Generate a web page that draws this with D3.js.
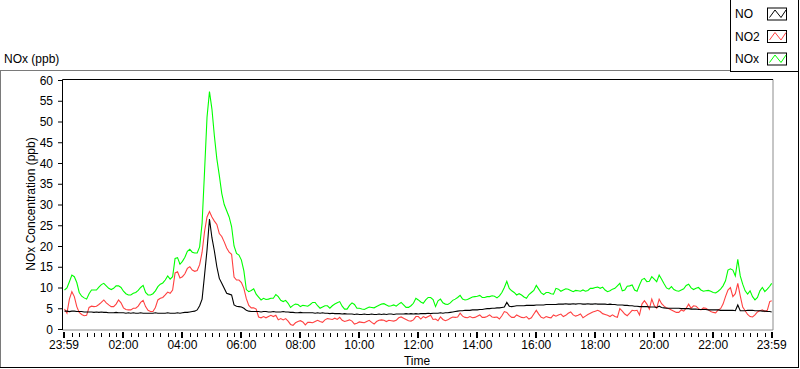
<!DOCTYPE html>
<html>
<head>
<meta charset="utf-8">
<script src="https://cdn.jsdelivr.net/npm/d3@7/dist/d3.min.js"></script>
<style>
  body { margin: 0; background: #fff; }
  svg text { font-family: "Liberation Sans", Arial, sans-serif; font-size: 12px; fill: #000; }
</style>
</head>
<body>
<div id="chart"></div>
<script>
// one reading every 5 minutes, 00:00 .. 23:59
var minutes = d3.range(289).map(function(i) { return Math.min(i * 5, 1439); });

var noxValues = [
  9.4, 9.9, 11.4, 13.0, 12.6, 11.2, 8.8, 7.9, 7.5, 7.2,
  8.5, 9.4, 9.4, 9.4, 10.1, 10.7, 11.0, 10.4, 9.8, 9.5,
  9.8, 10.4, 10.4, 10.0, 9.1, 8.5, 8.2, 8.2, 8.6, 8.8,
  9.3, 10.0, 10.5, 8.8, 8.2, 8.2, 8.5, 9.2, 10.2, 10.8,
  11.1, 11.8, 12.8, 12.0, 12.6, 17.0, 17.2, 15.6, 16.3, 17.3,
  18.7, 19.2, 18.5, 18.3, 18.3, 19.8, 25.5, 38.0, 51.0, 57.2,
  53.0, 46.5, 41.0, 37.0, 32.7, 30.0, 28.5, 27.0, 24.7, 20.0,
  18.2, 17.8, 16.6, 14.0, 9.5, 9.0, 9.3, 9.7, 8.4, 7.7,
  7.0, 7.4, 7.1, 7.2, 7.4, 7.4, 8.3, 7.8, 6.9, 6.6,
  6.9, 6.2, 5.2, 5.7, 6.0, 5.9, 5.4, 5.7, 5.6, 5.5,
  5.9, 6.4, 6.4, 5.6, 5.0, 5.3, 5.6, 5.6, 5.0, 5.6,
  6.0, 6.3, 6.6, 5.5, 4.8, 4.8, 5.7, 6.3, 5.9, 5.0,
  5.0, 4.8, 4.7, 5.0, 5.3, 5.2, 5.1, 5.4, 5.7, 6.0,
  6.1, 5.8, 5.5, 5.6, 5.8, 5.5, 6.0, 6.4, 5.8, 5.2,
  5.2, 5.6, 6.2, 7.4, 7.0, 6.5, 6.2, 7.0, 7.6, 7.6,
  7.1, 5.4, 6.8, 7.2, 6.3, 6.0, 5.9, 6.3, 6.9, 7.2,
  7.6, 8.1, 7.2, 7.0, 7.1, 7.4, 7.7, 7.8, 7.9, 8.1,
  7.6, 7.6, 7.8, 7.8, 8.0, 7.9, 7.5, 8.0, 8.8, 10.0,
  11.5, 9.8, 9.2, 8.8, 8.2, 8.5, 8.2, 7.7, 7.4, 8.3,
  8.8, 9.3, 10.5, 9.6, 8.7, 8.3, 8.8, 8.8, 8.5, 8.4,
  9.8, 9.6, 9.1, 9.4, 9.7, 9.6, 9.3, 9.0, 9.3, 9.2,
  9.1, 9.4, 9.1, 9.3, 9.8, 9.8, 10.0, 10.1, 9.8, 10.1,
  9.4, 9.0, 9.2, 9.6, 9.8, 10.4, 11.0, 9.2, 9.4, 10.3,
  10.4, 10.6, 9.4, 9.1, 10.6, 11.9, 12.2, 11.4, 11.5, 12.6,
  12.0, 11.4, 13.0, 12.0, 10.9, 9.9, 9.6, 10.2, 9.5, 9.2,
  9.1, 9.4, 9.7, 10.5, 10.8, 9.9, 9.5, 9.8, 10.0, 9.4,
  9.1, 9.2, 9.3, 9.1, 8.8, 8.7, 9.1, 9.6, 10.4, 11.6,
  14.2, 14.5, 14.2, 12.8, 16.8, 12.8, 10.8, 9.2, 8.4, 9.2,
  7.8, 7.0, 7.6, 9.2, 10.0, 9.0, 9.6, 10.3, 11.0
];

var no2Values = [
  4.8, 3.8, 7.2, 9.0, 7.8, 5.4, 4.0, 3.5, 3.2, 3.3,
  5.2, 5.5, 5.4, 5.5, 5.9, 6.4, 7.0, 6.3, 5.8, 5.4,
  5.4, 6.0, 7.0, 6.3, 5.1, 4.7, 4.6, 4.6, 5.0, 5.0,
  5.5, 6.4, 6.9, 5.4, 4.5, 4.2, 4.2, 5.2, 7.0, 7.4,
  7.6, 8.2, 8.9, 8.6, 9.4, 13.5, 13.8, 12.3, 12.6, 13.3,
  14.6, 15.0, 14.2, 13.9, 14.1, 15.5, 18.5, 23.5, 27.0, 28.3,
  27.0, 26.0, 25.2, 23.0, 22.3, 21.0, 19.5, 18.5, 18.0, 12.5,
  11.8, 11.8, 11.2, 9.8, 7.3, 5.7, 5.1, 5.1, 4.8, 2.9,
  2.7, 3.0, 2.7, 3.0, 3.3, 3.0, 3.3, 2.2, 2.5, 2.2,
  2.5, 1.9, 1.1, 0.9, 1.5, 1.8, 2.0, 1.7, 1.0, 1.6,
  1.6, 1.5, 1.8, 2.1, 1.8, 1.6, 2.2, 2.5, 2.4, 2.3,
  2.6, 2.3, 2.8, 2.1, 1.8, 2.0, 2.2, 1.9, 1.2, 1.4,
  1.7, 1.6, 1.5, 1.8, 2.1, 1.6, 1.2, 1.8, 2.1, 2.2,
  2.1, 1.8, 2.1, 2.0, 1.9, 2.1, 2.7, 2.9, 2.6, 2.3,
  2.0, 1.9, 2.2, 3.0, 3.0, 2.4, 3.0, 2.7, 3.0, 3.3,
  2.3, 2.4, 2.0, 2.9, 2.3, 2.0, 2.2, 2.6, 2.9, 2.8,
  2.9, 3.8, 3.1, 2.8, 2.7, 3.0, 2.7, 2.8, 3.1, 3.4,
  2.8, 2.8, 3.0, 3.4, 2.9, 2.8, 2.9, 2.4, 3.2, 4.2,
  4.0, 3.3, 2.8, 2.8, 3.4, 3.1, 2.8, 2.7, 3.0, 2.4,
  2.7, 3.6, 4.5, 3.6, 2.8, 2.6, 3.0, 2.8, 2.7, 3.4,
  3.1, 3.4, 3.6, 3.0, 3.3, 3.8, 4.1, 3.4, 3.1, 3.3,
  3.6, 2.7, 3.1, 3.5, 3.8, 4.1, 4.3, 4.5, 4.2, 3.7,
  3.5, 3.3, 3.0, 3.4, 3.0, 2.8, 4.9, 4.3, 3.6, 3.2,
  3.8, 4.5, 4.4, 4.5, 3.4, 6.0, 6.8, 6.0, 4.8, 7.2,
  5.6, 5.0, 7.2, 6.1, 5.5, 5.1, 4.9, 4.6, 4.3, 4.0,
  4.0, 4.6, 4.3, 5.0, 6.0, 5.0, 5.6, 5.5, 4.9, 4.6,
  5.1, 5.0, 4.6, 4.2, 4.0, 3.9, 4.6, 4.9, 6.0, 7.8,
  9.4, 10.0, 7.8, 8.5, 11.0, 8.0, 5.3, 4.4, 3.5, 3.0,
  2.9, 3.4, 4.1, 4.4, 4.6, 4.2, 4.5, 6.6, 6.8
];

var noValues = [
  4.3, 4.3, 4.2, 4.3, 4.3, 4.2, 4.2, 4.2, 4.1, 4.1,
  4.1, 4.1, 4.0, 4.1, 4.0, 4.1, 4.0, 4.0, 3.9, 3.9,
  3.9, 4.0, 3.9, 3.9, 3.9, 3.8, 3.9, 3.8, 3.9, 3.8,
  3.8, 3.9, 3.8, 3.8, 3.8, 3.8, 3.8, 3.9, 3.8, 3.8,
  3.8, 3.8, 3.9, 3.8, 3.8, 3.8, 3.9, 3.8, 3.9, 4.0,
  4.0, 4.1, 4.2, 4.3, 4.6, 5.6, 7.2, 13.0, 19.0, 26.5,
  22.0, 18.8, 15.0, 12.2, 11.0, 9.8, 8.6, 8.4, 8.2, 5.8,
  5.5, 5.4, 5.3, 5.0, 4.5, 4.3, 4.2, 4.2, 4.2, 4.2,
  4.1, 4.2, 4.2, 4.1, 4.1, 4.2, 4.1, 4.1, 4.1, 4.2,
  4.1, 4.1, 4.0, 4.0, 3.9, 3.9, 4.0, 3.9, 3.9, 3.9,
  3.9, 3.9, 3.8, 3.9, 3.8, 3.9, 3.8, 3.8, 3.7, 3.8,
  3.7, 3.7, 3.7, 3.6, 3.7, 3.6, 3.6, 3.6, 3.5, 3.6,
  3.5, 3.5, 3.6, 3.5, 3.5, 3.6, 3.5, 3.5, 3.6, 3.5,
  3.6, 3.5, 3.6, 3.6, 3.5, 3.6, 3.6, 3.6, 3.6, 3.7,
  3.6, 3.7, 3.6, 3.7, 3.6, 3.7, 3.7, 3.7, 3.8, 3.7,
  3.8, 3.8, 3.8, 3.9, 3.8, 3.9, 3.9, 4.0, 4.1, 4.2,
  4.3, 4.4, 4.4, 4.5, 4.5, 4.5, 4.6, 4.6, 4.6, 4.7,
  4.7, 4.8, 4.9, 4.9, 5.0, 5.0, 5.1, 5.1, 5.2, 5.3,
  6.4, 5.5, 5.4, 5.5, 5.6, 5.6, 5.6, 5.6, 5.7, 5.7,
  5.7, 5.7, 5.8, 5.8, 5.8, 5.8, 5.9, 5.9, 5.9, 5.9,
  5.9, 6.0, 6.0, 6.0, 6.1, 6.0, 6.0, 6.1, 6.0, 6.1,
  6.1, 6.0, 6.0, 6.1, 6.0, 6.0, 6.1, 6.0, 6.0, 6.0,
  6.0, 5.9, 6.0, 5.9, 5.9, 5.8, 5.8, 5.8, 5.7, 5.7,
  5.6, 5.6, 5.5, 5.5, 5.4, 5.4, 5.4, 5.4, 5.3, 5.3,
  5.3, 5.2, 5.5, 5.2, 5.1, 5.0, 5.0, 5.0, 5.0, 5.0,
  5.0, 4.9, 4.9, 4.9, 4.9, 4.8, 4.8, 4.8, 4.7, 4.7,
  4.7, 4.7, 4.6, 4.6, 4.6, 4.6, 4.6, 4.5, 4.5, 4.5,
  4.5, 4.5, 4.5, 4.4, 5.8, 4.4, 4.4, 4.4, 4.5, 4.5,
  4.5, 4.4, 4.4, 4.4, 4.3, 4.3, 4.2, 4.2, 4.1
];

var seriesNames = ["NO", "NO2", "NOx"];
var seriesColors = ["#000000", "#ff4040", "#00ff00"];
var yTicks = d3.range(0, 61, 5);
var xTickMinutes = [-1, 120, 240, 360, 480, 600, 720, 840, 960, 1080, 1200, 1320, 1439];
var xTickLabels = ["23:59", "02:00", "04:00", "06:00", "08:00", "10:00", "12:00",
                   "14:00", "16:00", "18:00", "20:00", "22:00", "23:59"];

var width = 800, height = 369;
var plot = { left: 62.5, right: 773, top: 79.5, bottom: 330 };

var svg = d3.select("#chart").append("svg")
    .attr("width", width)
    .attr("height", height);

svg.append("rect").attr("width", width).attr("height", height).attr("fill", "#fff");

// outer panel frame
svg.append("line").attr("x1", 0).attr("x2", 730).attr("y1", 70.5).attr("y2", 70.5).attr("stroke", "#7a7a7a");
svg.append("line").attr("x1", 0.5).attr("x2", 0.5).attr("y1", 70).attr("y2", 368).attr("stroke", "#7a7a7a");
svg.append("line").attr("x1", 0).attr("x2", 799).attr("y1", 367.5).attr("y2", 367.5).attr("stroke", "#000");
svg.append("line").attr("x1", 798.5).attr("x2", 798.5).attr("y1", 70).attr("y2", 368).attr("stroke", "#000");

svg.append("text").attr("x", 4).attr("y", 63).text("NOx (ppb)");

var x = d3.scaleLinear().domain([-1, 1439]).range([64, 771.7]);
var y = d3.scaleLinear().domain([0, 60]).range([329, 80]);

// plot frame
svg.append("line").attr("x1", plot.right).attr("x2", plot.right).attr("y1", plot.top).attr("y2", plot.bottom).attr("stroke", "#8c8c8c");
svg.append("line").attr("x1", plot.left).attr("x2", plot.right).attr("y1", plot.bottom).attr("y2", plot.bottom).attr("stroke", "#8c8c8c");
svg.append("line").attr("x1", plot.left).attr("x2", plot.right).attr("y1", plot.top).attr("y2", plot.top).attr("stroke", "#000");
svg.append("line").attr("x1", plot.left).attr("x2", plot.left).attr("y1", plot.top).attr("y2", plot.bottom).attr("stroke", "#000");

svg.append("clipPath").attr("id", "clip")
  .append("rect").attr("x", plot.left + 0.5).attr("y", plot.top + 0.5)
  .attr("width", plot.right - plot.left - 1).attr("height", plot.bottom - plot.top - 0.5);

// y axis
var yAxis = svg.append("g")
    .attr("transform", "translate(62,0)")
    .call(d3.axisLeft(y).tickValues(yTicks).tickSize(4).tickPadding(5));
yAxis.select(".domain").remove();
yAxis.attr("font-family", null).attr("font-size", null);
yAxis.selectAll("text").attr("dy", "0.35em");

svg.append("text")
    .attr("transform", "translate(35,204) rotate(-90)")
    .attr("text-anchor", "middle")
    .text("NOx Concentration (ppb)");

// x axis ticks: minor every 15 min, major every 2 h
var minorTicks = d3.range(0, 1440, 15).filter(function(m) { return m % 120 !== 0; });
svg.selectAll(".minor").data(minorTicks).enter().append("line")
    .attr("class", "minor")
    .attr("x1", function(d) { return Math.round(x(d)) + 0.5; })
    .attr("x2", function(d) { return Math.round(x(d)) + 0.5; })
    .attr("y1", 333).attr("y2", 337)
    .attr("stroke", "#000");
svg.selectAll(".major").data(xTickMinutes).enter().append("line")
    .attr("class", "major")
    .attr("x1", function(d) { return Math.round(x(d)); })
    .attr("x2", function(d) { return Math.round(x(d)); })
    .attr("y1", 332).attr("y2", 338)
    .attr("stroke", "#000").attr("stroke-width", 2);
svg.selectAll(".xlabel").data(xTickMinutes).enter().append("text")
    .attr("class", "xlabel")
    .attr("x", function(d) { return x(d); })
    .attr("y", 348.5)
    .attr("text-anchor", "middle")
    .text(function(d, i) { return xTickLabels[i]; });

svg.append("text").attr("x", 417).attr("y", 365).attr("text-anchor", "middle").text("Time");

// series, drawn NOx first so NO ends on top
var seriesValues = [noValues, no2Values, noxValues];
var line = d3.line()
    .x(function(d) { return x(d[0]); })
    .y(function(d) { return y(d[1]); });

var lines = svg.append("g").attr("clip-path", "url(#clip)");
[2, 1, 0].forEach(function(s) {
  lines.append("path")
      .datum(minutes.map(function(m, i) { return [m, seriesValues[s][i]]; }))
      .attr("fill", "none")
      .attr("stroke", seriesColors[s])
      .attr("stroke-width", 1.1)
      .attr("d", line);
});

// legend
var legend = svg.append("g");
legend.append("rect")
    .attr("x", 730.5).attr("y", -1).attr("width", 68).attr("height", 72.5)
    .attr("fill", "#fff").attr("stroke", "#000");

var rowY = [14, 36.5, 59];
var zig = d3.line();
seriesNames.forEach(function(name, i) {
  var cy = rowY[i];
  legend.append("text").attr("x", 735).attr("y", cy + 4.3).text(name);
  legend.append("rect")
      .attr("x", 767.5).attr("y", cy - 6).attr("width", 19).attr("height", 12)
      .attr("fill", "#fff").attr("stroke", "#000");
  legend.append("path")
      .attr("d", zig([[769.5, cy + 3.5], [775, cy - 4], [781, cy + 3.5], [786, cy - 4]]))
      .attr("fill", "none")
      .attr("stroke", seriesColors[i]);
});
</script>
</body>
</html>
